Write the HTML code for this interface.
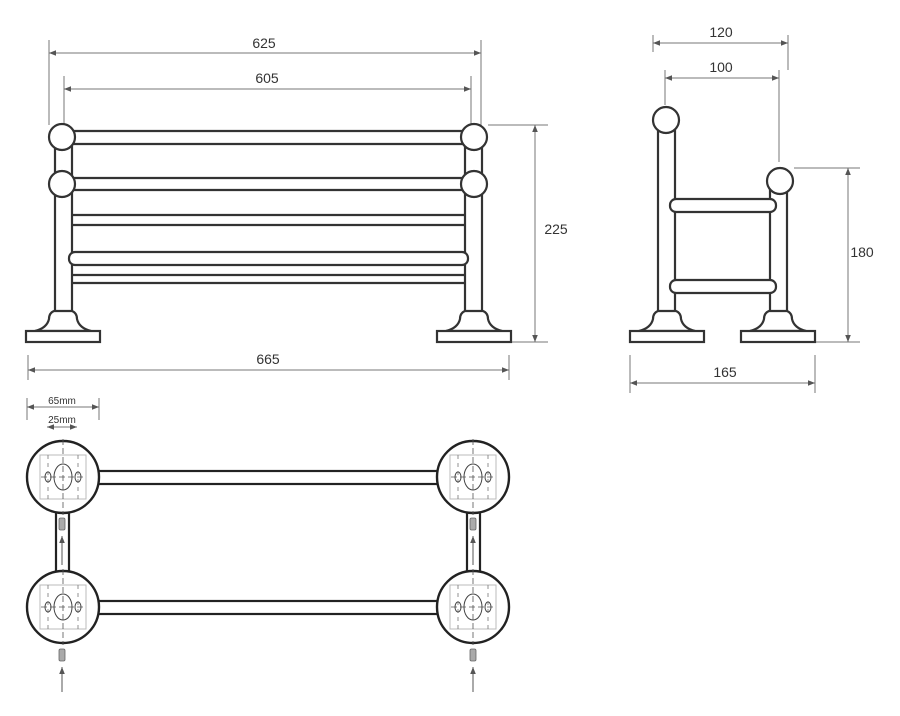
<!DOCTYPE html>
<html><head><style>html,body{margin:0;padding:0;background:#fff}svg{display:block}</style></head>
<body>
<svg width="900" height="716" viewBox="0 0 900 716" xmlns="http://www.w3.org/2000/svg" font-family="Liberation Sans, sans-serif">
<defs>
<marker id="a" viewBox="0 0 10 10" refX="10" refY="5" markerWidth="7" markerHeight="7" orient="auto-start-reverse"><path d="M0,1 L10,5 L0,9 z" fill="#555"/></marker>
<g id="foot"><path d="M-9,0 L9,0 Q14,2 14,8 Q16,17 28,20 L-28,20 Q-16,17 -14,8 Q-14,2 -9,0 Z" fill="#fff" stroke="#333" stroke-width="2.2"/><rect x="-37" y="20" width="74" height="11" fill="#fff" stroke="#333" stroke-width="2.2"/></g>
<g id="disc">
<circle r="36" fill="#fff" stroke="#222" stroke-width="2.4"/>
<rect x="-23" y="-22" width="46" height="44" fill="none" stroke="#bbb" stroke-width="1"/>
<ellipse rx="9" ry="13" fill="none" stroke="#444" stroke-width="1"/>
<ellipse cx="-15" rx="3" ry="5" fill="none" stroke="#444" stroke-width="1"/>
<ellipse cx="15" rx="3" ry="5" fill="none" stroke="#444" stroke-width="1"/>
<line x1="-22" y1="0" x2="22" y2="0" stroke="#555" stroke-width="0.8" stroke-dasharray="6,3"/>
<line x1="0" y1="-38" x2="0" y2="38" stroke="#555" stroke-width="0.8" stroke-dasharray="6,3"/>
<line x1="-15" y1="-22" x2="-15" y2="22" stroke="#777" stroke-width="0.8" stroke-dasharray="4,4"/>
<line x1="15" y1="-22" x2="15" y2="22" stroke="#777" stroke-width="0.8" stroke-dasharray="4,4"/>
</g>
<g id="screw"><rect x="-3" y="-6" width="6" height="12" rx="1.5" fill="#aaa" stroke="#666" stroke-width="0.8"/></g>
</defs>

<g stroke="#777" stroke-width="1" fill="none">
<!-- front view dims -->
<line x1="49" y1="40" x2="49" y2="125"/><line x1="481" y1="40" x2="481" y2="125"/>
<line x1="49" y1="53" x2="481" y2="53" marker-start="url(#a)" marker-end="url(#a)"/>
<line x1="64" y1="76" x2="64" y2="125"/><line x1="471" y1="76" x2="471" y2="125"/>
<line x1="64" y1="89" x2="471" y2="89" marker-start="url(#a)" marker-end="url(#a)"/>
<line x1="488" y1="125" x2="548" y2="125"/><line x1="512" y1="342" x2="548" y2="342"/>
<line x1="535" y1="125" x2="535" y2="342" marker-start="url(#a)" marker-end="url(#a)"/>
<line x1="28" y1="355" x2="28" y2="380"/><line x1="509" y1="355" x2="509" y2="380"/>
<line x1="28" y1="370" x2="509" y2="370" marker-start="url(#a)" marker-end="url(#a)"/>
<!-- side view dims -->
<line x1="653" y1="35" x2="653" y2="52"/><line x1="788" y1="35" x2="788" y2="70"/>
<line x1="653" y1="43" x2="788" y2="43" marker-start="url(#a)" marker-end="url(#a)"/>
<line x1="665" y1="70" x2="665" y2="105"/><line x1="779" y1="70" x2="779" y2="162"/>
<line x1="665" y1="78" x2="779" y2="78" marker-start="url(#a)" marker-end="url(#a)"/>
<line x1="794" y1="168" x2="860" y2="168"/><line x1="815" y1="342" x2="860" y2="342"/>
<line x1="848" y1="168" x2="848" y2="342" marker-start="url(#a)" marker-end="url(#a)"/>
<line x1="630" y1="355" x2="630" y2="393"/><line x1="815" y1="355" x2="815" y2="393"/>
<line x1="630" y1="383" x2="815" y2="383" marker-start="url(#a)" marker-end="url(#a)"/>
<!-- top view dims -->
<line x1="27" y1="398" x2="27" y2="420"/><line x1="99" y1="398" x2="99" y2="420"/>
<line x1="27" y1="407" x2="99" y2="407" marker-start="url(#a)" marker-end="url(#a)"/>
<line x1="47" y1="427" x2="77" y2="427" marker-start="url(#a)" marker-end="url(#a)"/>
</g>
<g fill="#333" font-size="14" text-anchor="middle">
<text x="264" y="48">625</text><text x="267" y="83">605</text>
<text x="556" y="234">225</text><text x="268" y="364">665</text>
<text x="721" y="37">120</text><text x="721" y="72">100</text>
<text x="862" y="257">180</text><text x="725" y="377">165</text>
<text x="62" y="404" font-size="10">65mm</text><text x="62" y="423" font-size="10">25mm</text>
</g>

<!-- FRONT VIEW -->
<g stroke="#333" stroke-width="2.2" fill="#fff">
<rect x="55" y="135" width="17" height="177"/>
<rect x="465" y="135" width="17" height="177"/>
<rect x="60" y="131" width="416" height="13" rx="6"/>
<rect x="60" y="178" width="416" height="12" rx="6"/>
<line x1="72" y1="215" x2="465" y2="215"/><line x1="72" y1="225" x2="465" y2="225"/>
<rect x="69" y="252" width="399" height="13" rx="6"/>
<line x1="72" y1="275" x2="465" y2="275"/><line x1="72" y1="283" x2="465" y2="283"/>
<circle cx="62" cy="137" r="13"/><circle cx="62" cy="184" r="13"/>
<circle cx="474" cy="137" r="13"/><circle cx="474" cy="184" r="13"/>
</g>
<use href="#foot" x="63" y="311"/><use href="#foot" x="474" y="311"/>

<!-- SIDE VIEW -->
<g stroke="#333" stroke-width="2.2" fill="#fff">
<rect x="658" y="128" width="17" height="184"/>
<rect x="770" y="188" width="17" height="124"/>
<rect x="670" y="199" width="106" height="13" rx="6"/>
<rect x="670" y="280" width="106" height="13" rx="6"/>
<circle cx="666" cy="120" r="13"/><circle cx="780" cy="181" r="13"/>
</g>
<use href="#foot" x="667" y="311"/><use href="#foot" x="778" y="311"/>

<!-- TOP VIEW -->
<g stroke="#222" stroke-width="2.2" fill="#fff">
<rect x="90" y="471" width="356" height="13"/>
<rect x="90" y="601" width="356" height="13"/>
<rect x="56" y="505" width="13" height="75"/>
<rect x="467" y="505" width="13" height="75"/>
</g>
<use href="#disc" x="63" y="477"/><use href="#disc" x="63" y="607"/>
<use href="#disc" x="473" y="477"/><use href="#disc" x="473" y="607"/>
<use href="#screw" x="62" y="524"/><use href="#screw" x="473" y="524"/>
<use href="#screw" x="62" y="655"/><use href="#screw" x="473" y="655"/>
<g stroke="#555" stroke-width="1">
<line x1="62" y1="565" x2="62" y2="536" marker-end="url(#a)"/>
<line x1="473" y1="565" x2="473" y2="536" marker-end="url(#a)"/>
<line x1="62" y1="692" x2="62" y2="667" marker-end="url(#a)"/>
<line x1="473" y1="692" x2="473" y2="667" marker-end="url(#a)"/>
</g>
</svg>
</body></html>
